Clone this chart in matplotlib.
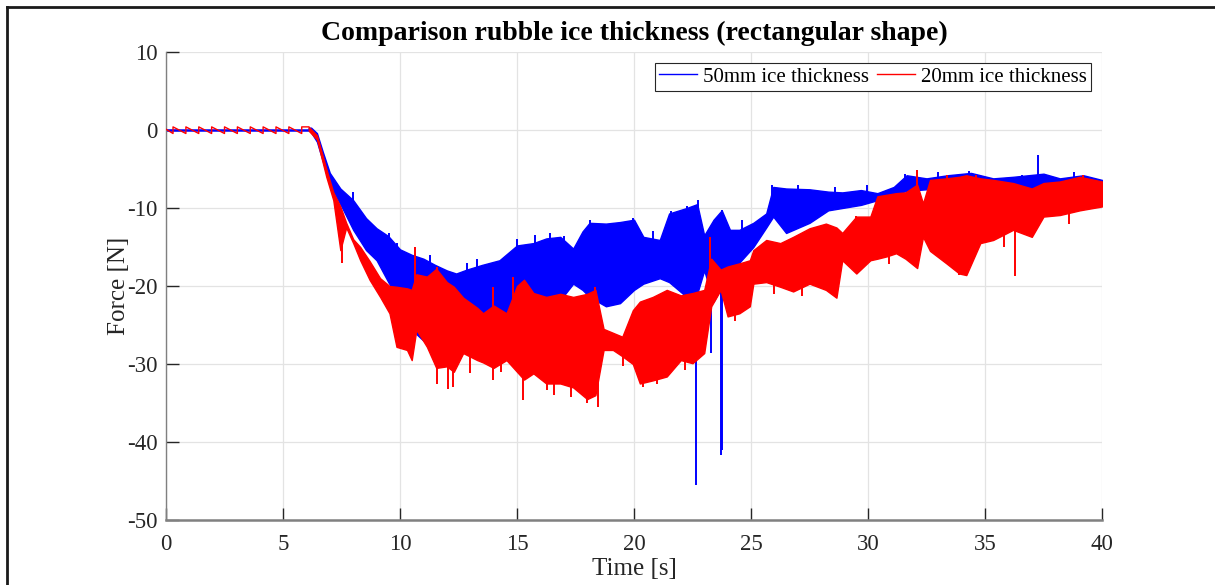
import numpy as np
import matplotlib
matplotlib.use("Agg")
import matplotlib.pyplot as plt
from matplotlib.lines import Line2D

# ---------------------------------------------------------------------------
# Measured force records (envelope of the oscillating signal, in N)
# ---------------------------------------------------------------------------
# idle phase before contact: 50 mm run stays at zero, 20 mm run shows a sawtooth
idle_t = [0.0, 6.05]
blue_idle_v = [0.0, 0.0]
saw_rise_t = [0.3, 0.85, 1.4, 1.95, 2.5, 3.05, 3.6, 4.15, 4.7, 5.25, 5.8]
saw_low, saw_high = -0.45, 0.4

# 50 mm ice thickness
blue_t = [6.1, 6.2, 6.45, 6.7, 7.0, 7.45, 8.0, 8.55, 9.0, 9.5,
          10.0, 10.5, 11.0, 11.5, 12.0, 12.4, 12.85, 13.5, 14.25, 15.0,
          15.7, 16.25, 16.85, 17.4, 17.8, 18.1, 18.8, 19.4, 20.0, 20.4,
          21.1, 21.5, 22.25, 22.7, 23.0, 23.4, 23.75, 24.1, 24.5, 25.1,
          25.65, 25.95, 26.5, 27.5, 28.3, 28.9, 29.7, 30.4, 31.1, 31.65,
          32.5, 33.4, 34.4, 35.35, 36.2, 37.5, 38.2, 39.2, 40.0]
blue_lo = [0.0, -0.3, -1.5, -4.0, -7.0, -9.5, -12.8, -15.4, -16.7, -19.5,
           -22.0, -25.6, -27.0, -27.3, -26.0, -25.0, -24.0, -23.7, -23.7, -23.0,
           -22.0, -21.3, -21.8, -19.7, -20.5, -21.4, -22.6, -22.2, -20.5, -19.7,
           -19.0, -19.5, -21.4, -21.0, -18.0, -22.0, -20.0, -17.5, -17.0, -15.0,
           -12.5, -11.1, -13.2, -11.9, -10.3, -10.0, -9.6, -9.0, -8.3, -7.8,
           -7.6, -7.8, -8.0, -8.2, -8.0, -7.8, -7.6, -7.4, -7.4]
blue_hi = [0.3, 0.3, -0.4, -2.8, -5.5, -7.5, -9.0, -11.3, -12.6, -13.6,
           -15.3, -16.0, -16.5, -17.3, -18.0, -18.4, -17.9, -17.3, -16.7, -14.8,
           -14.5, -13.9, -13.7, -15.2, -13.0, -11.9, -12.0, -11.8, -11.5, -13.7,
           -14.1, -10.7, -10.0, -9.5, -13.5, -11.5, -10.3, -12.8, -12.8, -11.9,
           -10.7, -7.3, -7.5, -7.6, -7.9, -8.0, -7.7, -8.1, -7.3, -5.8,
           -6.2, -5.8, -5.5, -6.2, -6.0, -5.6, -6.2, -5.8, -6.4]
# isolated peaks sticking out of the 50 mm band
blue_spike_t = [22.67, 23.3, 23.7, 23.75, 29.94, 37.28, 22.74, 9.55,
                8.0, 9.86, 12.85, 15.0, 15.77, 16.4, 18.12, 19.97, 21.6,
                22.25, 23.74, 25.9, 31.58, 34.3, 36.6, 11.3, 13.3, 17.0,
                20.8, 24.6, 27.0, 28.6, 33.0, 38.8]
blue_spike_v = [-45.5, -28.6, -41.7, -41.0, -7.0, -3.2, -9.0, -13.2,
                -8.0, -14.5, -17.0, -14.0, -13.5, -13.2, -11.5, -11.3, -10.4,
                -9.8, -10.3, -7.1, -5.6, -5.3, -5.8, -16.0, -16.6, -13.6,
                -12.9, -11.6, -7.0, -7.3, -5.4, -5.4]

# 20 mm ice thickness
red_t = [6.1, 6.45, 6.85, 7.15, 7.45, 7.7, 8.0, 8.3, 8.7, 9.15,
         9.55, 9.85, 10.3, 10.5, 10.7, 11.15, 11.55, 12.0, 12.3, 12.7,
         13.3, 13.55, 14.0, 14.55, 15.0, 15.3, 15.7, 16.25, 16.85, 17.4,
         18.0, 18.35, 18.7, 19.1, 19.5, 19.95, 20.25, 20.8, 21.4, 22.0,
         22.5, 23.0, 23.3, 23.7, 24.0, 24.5, 24.95, 25.1, 25.65, 26.25,
         26.8, 27.5, 28.2, 28.65, 28.9, 29.5, 30.1, 30.4, 30.8, 31.2,
         31.6, 32.1, 32.35, 32.65, 33.35, 33.9, 34.2, 34.8, 35.35, 36.2,
         37.0, 37.5, 38.2, 39.05, 40.0]
red_lo = [-0.1, -1.2, -6.0, -9.0, -15.4, -12.5, -14.5, -16.7, -19.2, -21.4,
          -23.5, -27.8, -28.2, -29.5, -25.6, -27.8, -30.5, -30.3, -31.0, -28.6,
          -29.5, -29.8, -30.5, -29.5, -31.0, -32.0, -31.2, -32.5, -32.5, -33.0,
          -34.5, -34.0, -28.2, -28.2, -29.0, -30.0, -32.5, -32.1, -31.6, -29.5,
          -29.9, -28.6, -22.6, -20.5, -23.9, -23.5, -22.6, -19.7, -19.5, -20.1,
          -20.7, -19.7, -20.5, -21.5, -16.7, -18.4, -16.7, -16.5, -16.2, -15.8,
          -16.5, -17.7, -13.7, -15.5, -17.1, -18.4, -18.6, -14.5, -14.1, -12.8,
          -13.7, -11.1, -10.9, -10.3, -9.8]
red_hi = [0.4, -0.7, -5.0, -8.0, -9.8, -11.9, -14.0, -15.0, -16.8, -19.0,
          -20.0, -20.1, -20.3, -20.5, -18.5, -18.8, -17.8, -19.5, -20.1, -21.5,
          -22.8, -23.5, -22.5, -23.5, -20.0, -19.2, -20.9, -21.4, -21.0, -21.4,
          -21.0, -20.5, -25.5, -26.0, -26.5, -23.1, -22.0, -21.4, -20.5, -21.2,
          -20.9, -20.5, -16.5, -17.9, -17.5, -17.1, -16.7, -15.4, -14.1, -14.5,
          -13.7, -12.6, -12.0, -12.5, -13.2, -11.1, -11.1, -8.5, -8.3, -8.1,
          -8.0, -7.0, -9.4, -6.4, -6.2, -6.0, -5.8, -6.2, -6.4, -6.8,
          -7.5, -6.8, -6.6, -6.0, -6.6]
# isolated peaks sticking out of the 20 mm band
red_spike_t = [10.64, 11.57, 12.27, 13.98, 13.98, 14.84, 15.27, 16.27, 18.45,
               23.25, 32.08, 11.6, 7.5, 18.33, 17.98, 19.54, 20.4, 21.0,
               29.5, 33.36, 34.6, 39.2, 33.9, 36.3, 12.05, 13.0, 14.3,
               16.6, 17.3, 22.2, 24.3, 26.0, 27.2, 30.9, 35.8, 38.6]
red_spike_v = [-15.0, -32.5, -32.9, -32.1, -20.1, -18.8, -34.6, -33.3, -35.5,
               -13.7, -5.1, -17.5, -17.1, -20.1, -35.0, -30.3, -33.0, -32.5,
               -11.0, -5.8, -5.8, -5.8, -18.6, -18.7, -33.2, -31.2, -31.0,
               -34.0, -34.2, -30.8, -24.5, -21.0, -21.3, -17.2, -15.0, -12.0]

x_ticks = [0, 5, 10, 15, 20, 25, 30, 35, 40]
y_ticks = [-50, -40, -30, -20, -10, 0, 10]
series_labels = ['50mm ice thickness', '20mm ice thickness']
title_text = 'Comparison rubble ice thickness (rectangular shape)'

# ---------------------------------------------------------------------------
plt.rcParams['font.family'] = ['Liberation Serif', 'DejaVu Serif']
plt.rcParams['axes.unicode_minus'] = False

BLUE = '#0000ff'
RED = '#ff0000'
W, H = 1215, 585

fig = plt.figure(figsize=(W / 100, H / 100), dpi=100)
ax = fig.add_axes([166 / W, 1 - 520 / H, (1102 - 166) / W, (520 - 52) / H])


def band(ax, t, lo, hi, sp_t, sp_v, color, z):
    ax.fill_between(t, lo, hi, facecolor=color, edgecolor=color,
                    linewidth=1.0, zorder=z)
    mid = np.interp(sp_t, t, (np.asarray(lo) + np.asarray(hi)) / 2)
    ax.vlines(sp_t, mid, sp_v, color=color, linewidth=1.4, zorder=z)


# idle phase
ax.plot(idle_t, blue_idle_v, color=BLUE, lw=1.8, zorder=2)
saw_x = [0.0]
saw_y = [0.1]
for tr in saw_rise_t:
    saw_x += [tr, tr]
    saw_y += [saw_low, saw_high]
saw_x.append(blue_t[0])
saw_y.append(red_hi[0])
ax.plot(saw_x, saw_y, color=RED, lw=1.0, zorder=4)

band(ax, blue_t, blue_lo, blue_hi, blue_spike_t, blue_spike_v, BLUE, 2)
band(ax, red_t, red_lo, red_hi, red_spike_t, red_spike_v, RED, 3)

ax.set_xlim(0, 40)
ax.set_ylim(-50, 10)
ax.set_xticks(x_ticks)
ax.set_yticks(y_ticks)
ax.grid(True, color='#e3e3e3', linewidth=0.9)
ax.set_axisbelow(True)
for s in ('top', 'right'):
    ax.spines[s].set_visible(False)
ax.spines['left'].set_color('#808080')
ax.spines['left'].set_linewidth(1.0)
ax.spines['bottom'].set_color('#808080')
ax.spines['bottom'].set_linewidth(1.8)
ax.tick_params(direction='in', length=9, width=1.0, color='#262626',
               labelsize=16.5, labelcolor='#262626')
ax.tick_params(axis='x', pad=10)
ax.tick_params(axis='y', pad=6)

ax.set_xlabel('Time [s]', fontsize=18, color='#262626', labelpad=2)
ax.set_ylabel('Force [N]', fontsize=18, color='#262626', labelpad=-2)
ax.set_title(title_text, fontsize=20, fontweight='bold', pad=9)

handles = [Line2D([], [], color=BLUE, lw=1.0), Line2D([], [], color=RED, lw=1.0)]
leg = ax.legend(handles, series_labels, loc='upper right',
                bbox_to_anchor=(1091 / W, 1 - 63 / H),
                bbox_transform=fig.transFigure, borderaxespad=0, ncol=2,
                fancybox=False, edgecolor='#262626', framealpha=1,
                handlelength=1.8, handletextpad=0.3, columnspacing=0.4,
                borderpad=0.2, fontsize=15)
leg.get_frame().set_linewidth(0.8)

# outer frame (top and left edges)
fig.add_artist(Line2D([7 / W, 1.0], [1 - 7 / H, 1 - 7 / H],
                      transform=fig.transFigure, color='#1a1a1a', lw=2))
fig.add_artist(Line2D([7 / W, 7 / W], [0.0, 1 - 7 / H],
                      transform=fig.transFigure, color='#1a1a1a', lw=2))

fig.savefig('out.png', dpi=100)
